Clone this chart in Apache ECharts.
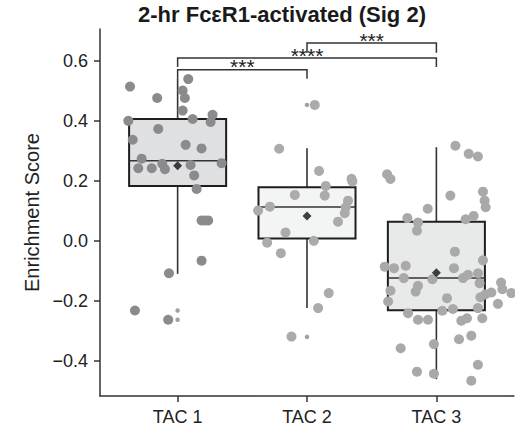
<!DOCTYPE html>
<html><head><meta charset="utf-8">
<script src="https://cdn.jsdelivr.net/npm/echarts@6/dist/echarts.min.js"></script>
<style>html,body{margin:0;padding:0;background:#fff}#c{width:515px;height:430px}</style>
</head><body><div id="c"></div>
<script>
// ---------- data ----------
const categories = ['TAC 1', 'TAC 2', 'TAC 3'];
const yTicks = [-0.4, -0.2, 0.0, 0.2, 0.4, 0.6];
const titleText = '2-hr Fc\u03b5R1-activated (Sig 2)';
const yName = 'Enrichment Score';

// box statistics per group
const whiskerLow  = [-0.111, -0.225, -0.462];
const boxQ1       = [0.182, 0.007, -0.232];
const boxMedian   = [0.266, 0.112, -0.125];
const boxQ3       = [0.405, 0.178, 0.063];
const whiskerHigh = [0.540, 0.308, 0.311];
const boxMean     = [0.249, 0.082, -0.107];

// outlier (flier) values
const tac1Outliers = [-0.233, -0.264];
const tac2Outliers = [0.452, -0.321];

// jittered sample points: [horizontal jitter, enrichment score]
const tac1Points = [[-0.368,0.513],[0.082,0.538],[-0.158,0.475],[0.039,0.5],[0.056,0.475],[0.039,0.433],[-0.381,0.399],[0.116,0.405],[0.27,0.419],[0.255,0.395],[-0.15,0.372],[-0.347,0.336],[0.062,0.319],[0.185,0.307],[-0.278,0.273],[-0.304,0.241],[-0.2,0.241],[-0.119,0.256],[-0.098,0.238],[0.1,0.252],[0.34,0.258],[0.128,0.217],[0.147,0.172],[0.185,0.067],[0.211,0.067],[0.236,0.067],[0.185,-0.067],[-0.067,-0.109],[-0.33,-0.233],[-0.073,-0.264]];
const tac2Points = [[0.06,0.452],[-0.215,0.306],[0.093,0.232],[0.145,0.182],[0.344,0.206],[0.351,0.197],[-0.094,0.152],[0.137,0.15],[0.317,0.133],[0.3,0.111],[-0.287,0.113],[-0.378,0.1],[0.292,0.091],[0.24,0.063],[-0.166,0.027],[-0.308,-0.007],[0.053,-0.001],[-0.202,-0.042],[0.168,-0.175],[0.086,-0.225],[-0.12,-0.32]];
const tac3Points = [[0.147,0.316],[0.25,0.289],[0.321,0.28],[-0.381,0.221],[-0.355,0.205],[0.108,0.15],[0.36,0.163],[0.373,0.133],[0.381,0.111],[-0.067,0.106],[-0.224,0.075],[-0.142,0.06],[-0.15,0.033],[0.226,0.071],[0.288,0.082],[0.143,-0.037],[0.36,-0.066],[-0.399,-0.087],[-0.327,-0.092],[-0.237,-0.084],[0.136,-0.092],[-0.252,-0.125],[-0.031,-0.129],[0.206,-0.125],[0.244,-0.114],[0.322,-0.109],[0.334,-0.142],[-0.142,-0.151],[-0.16,-0.17],[-0.355,-0.167],[0.5,-0.14],[0.51,-0.162],[0.58,-0.175],[0.425,-0.173],[0.381,-0.179],[0.34,-0.189],[-0.373,-0.203],[0.082,-0.192],[0.476,-0.211],[0.321,-0.225],[0.128,-0.228],[0.046,-0.234],[-0.219,-0.242],[-0.142,-0.264],[-0.065,-0.264],[0.193,-0.267],[0.236,-0.259],[0.355,-0.259],[0.175,-0.329],[0.27,-0.317],[-0.276,-0.359],[-0.019,-0.345],[0.321,-0.414],[-0.15,-0.437],[-0.019,-0.444],[0.27,-0.467]];

// significance brackets
const sigPairs  = [[0, 1], [0, 2], [1, 2]];
const sigLabels = ['***', '****', '***'];
const sigLevels = [0.569, 0.608, 0.658];
const sigDrops  = [0.030, 0.030, 0.032];

// ---------- styles ----------
const FONT = 'Liberation Sans, Arial, Helvetica, sans-serif';
const boxFills = ['#dfe0e2', '#f3f5f4', '#e8e9e9'];
const dotColors = ['#8b8b8d', '#ababad', '#a9a9ab'];
const ink = '#222';

const chart = echarts.init(document.getElementById('c'), null, {renderer: 'svg'});

function renderBox(params, api) {
  const i = api.value(0);
  const hw = 0.375;
  const pLo = api.coord([i, api.value(1)]);
  const pQ1 = api.coord([i, api.value(2)]);
  const pMed = api.coord([i, api.value(3)]);
  const pQ3 = api.coord([i, api.value(4)]);
  const pHi = api.coord([i, api.value(5)]);
  const tl = api.coord([i - hw, api.value(4)]);
  const br = api.coord([i + hw, api.value(2)]);
  return {type: 'group', children: [
    {type: 'line', shape: {x1: pQ3[0], y1: pQ3[1], x2: pHi[0], y2: pHi[1]}, style: {stroke: '#333', lineWidth: 1.6}},
    {type: 'line', shape: {x1: pQ1[0], y1: pQ1[1], x2: pLo[0], y2: pLo[1]}, style: {stroke: '#333', lineWidth: 1.6}},
    {type: 'rect', shape: {x: tl[0], y: tl[1], width: br[0] - tl[0], height: br[1] - tl[1]}, style: {fill: boxFills[i], stroke: '#1e1e1e', lineWidth: 2}},
    {type: 'line', shape: {x1: tl[0], y1: pMed[1], x2: br[0], y2: pMed[1]}, style: {stroke: '#333', lineWidth: 1.4}}
  ]};
}

function renderBracket(params, api) {
  const k = api.value(4);
  const a = api.coord([api.value(0), api.value(2)]);
  const b = api.coord([api.value(1), api.value(2)]);
  const low = api.coord([api.value(0), api.value(3)]);
  return {type: 'group', children: [
    {type: 'polyline', shape: {points: [[a[0], low[1]], [a[0], a[1]], [b[0], b[1]], [b[0], low[1]]]},
     style: {stroke: '#333', lineWidth: 1.5, fill: null}},
    {type: 'text', x: (a[0] + b[0]) / 2, y: a[1] - 3,
     style: {text: sigLabels[k], align: 'center', verticalAlign: 'middle', fontSize: 21, fontFamily: FONT, fill: ink}}
  ]};
}

const pointSets = [tac1Points, tac2Points, tac3Points];
const scatterSeries = pointSets.map((pts, i) => ({
  type: 'scatter', z: 3, symbolSize: 10, silent: true,
  itemStyle: {color: dotColors[i], opacity: 1},
  data: pts.map(p => [i + p[0], p[1]])
}));

const option = {
  animation: false,
  graphic: [{type: 'text', x: 282, y: 14,
    style: {text: titleText, align: 'center', verticalAlign: 'middle', fontSize: 22, fontWeight: 'bold', fontFamily: FONT, fill: '#1a1a1a'}}],
  grid: {left: 100, right: 1, top: 29, bottom: 34},
  xAxis: {
    type: 'value', min: -0.6, max: 2.6,
    splitLine: {show: false},
    axisLine: {show: true, onZero: false, lineStyle: {color: '#333', width: 1.5}},
    axisTick: {show: true, customValues: [0, 1, 2], length: 6, lineStyle: {color: '#333', width: 1.5}},
    axisLabel: {customValues: [0, 1, 2], formatter: v => categories[Math.round(v)], fontSize: 18, color: ink, fontFamily: FONT, margin: 12}
  },
  yAxis: {
    type: 'value', min: -0.518, max: 0.705,
    name: yName, nameLocation: 'middle', nameGap: 58,
    nameTextStyle: {fontSize: 20, color: ink, fontFamily: FONT},
    splitLine: {show: false},
    axisLine: {show: true, onZero: false, lineStyle: {color: '#333', width: 1.5}},
    axisTick: {show: true, customValues: yTicks, length: 6, lineStyle: {color: '#333', width: 1.5}},
    axisLabel: {customValues: yTicks, fontSize: 18, color: ink, fontFamily: FONT, margin: 12,
      formatter: v => (v < -1e-9 ? '\u2212' : '') + Math.abs(v).toFixed(1)}
  },
  series: [
    {type: 'custom', z: 2, silent: true, renderItem: renderBox, encode: {x: 0, y: [1, 2, 3, 4, 5]},
     data: categories.map((c, i) => [i, whiskerLow[i], boxQ1[i], boxMedian[i], boxQ3[i], whiskerHigh[i]])},
    {type: 'scatter', z: 2, symbolSize: 4.5, silent: true, itemStyle: {color: '#8a8a8a'},
     data: tac1Outliers.map(v => [0, v]).concat(tac2Outliers.map(v => [1, v]))},
    ...scatterSeries,
    {type: 'scatter', z: 4, symbol: 'diamond', symbolSize: 9, silent: true, itemStyle: {color: '#111'},
     data: boxMean.map((m, i) => [i, m])},
    {type: 'custom', z: 5, silent: true, renderItem: renderBracket, encode: {x: [0, 1], y: [2, 3]},
     data: sigPairs.map((p, k) => [p[0], p[1], sigLevels[k], sigLevels[k] - sigDrops[k], k])}
  ]
};
chart.setOption(option);
</script>
</body></html>
